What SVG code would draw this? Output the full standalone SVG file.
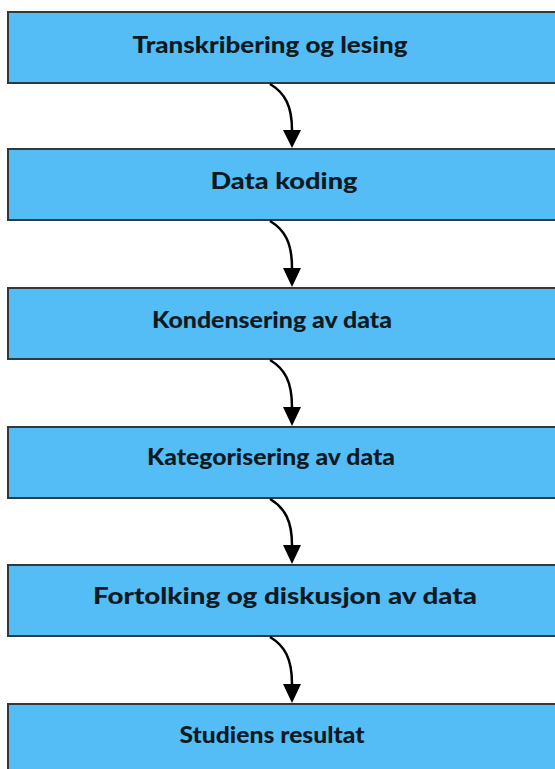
<svg xmlns="http://www.w3.org/2000/svg" width="555" height="769" viewBox="0 0 555 769">
  <defs>
    <style>
      .box { fill: #55bdf6; stroke: #2f3a40; stroke-width: 2; }
      .label { font-family: Lato, "Open Sans", sans-serif; font-weight: 900; font-size: 23px; fill: #0d1a22; text-anchor: middle; }
      .link { fill: none; stroke: #000; stroke-width: 2.5; }
    </style>
  </defs>
  <rect width="555" height="769" fill="#fff"/>

  <g id="node1"><rect class="box" x="8" y="12" width="560" height="71"/><text class="label" x="270" y="53" textLength="275" lengthAdjust="spacingAndGlyphs">Transkribering og lesing</text></g>
  <g id="node2"><rect class="box" x="8" y="149" width="560" height="71"/><text class="label" x="284" y="189" textLength="147" lengthAdjust="spacingAndGlyphs">Data koding</text></g>
  <g id="node3"><rect class="box" x="8" y="288" width="560" height="71"/><text class="label" x="272" y="328" textLength="240" lengthAdjust="spacingAndGlyphs">Kondensering av data</text></g>
  <g id="node4"><rect class="box" x="8" y="427" width="560" height="71"/><text class="label" x="271" y="465" textLength="248" lengthAdjust="spacingAndGlyphs">Kategorisering av data</text></g>
  <g id="node5"><rect class="box" x="8" y="565" width="560" height="71"/><text class="label" x="285" y="604" textLength="384" lengthAdjust="spacingAndGlyphs">Fortolking og diskusjon av data</text></g>
  <g id="node6"><rect class="box" x="8" y="704" width="560" height="80"/><text class="label" x="272" y="743" textLength="185" lengthAdjust="spacingAndGlyphs">Studiens resultat</text></g>

  <!-- curved links: each leaves the box above slightly left of centre and drops onto the next -->
  <g id="connectors">
    <path d="M270,84 C285,93 292,106 292,130 L292,131" class="link"/>
    <path d="M283,130 L301,130 L292,148 Z" fill="#000"/>
    <path d="M270,221 C285,230 292,243 292,268 L292,269" class="link"/>
    <path d="M283,268 L301,268 L292,287 Z" fill="#000"/>
    <path d="M270,360 C285,369 292,382 292,407 L292,408" class="link"/>
    <path d="M283,407 L301,407 L292,426 Z" fill="#000"/>
    <path d="M270,499 C285,508 292,521 292,545 L292,546" class="link"/>
    <path d="M283,545 L301,545 L292,564 Z" fill="#000"/>
    <path d="M270,637 C285,646 292,659 292,684 L292,685" class="link"/>
    <path d="M283,684 L301,684 L292,703 Z" fill="#000"/>
  </g>
</svg>
